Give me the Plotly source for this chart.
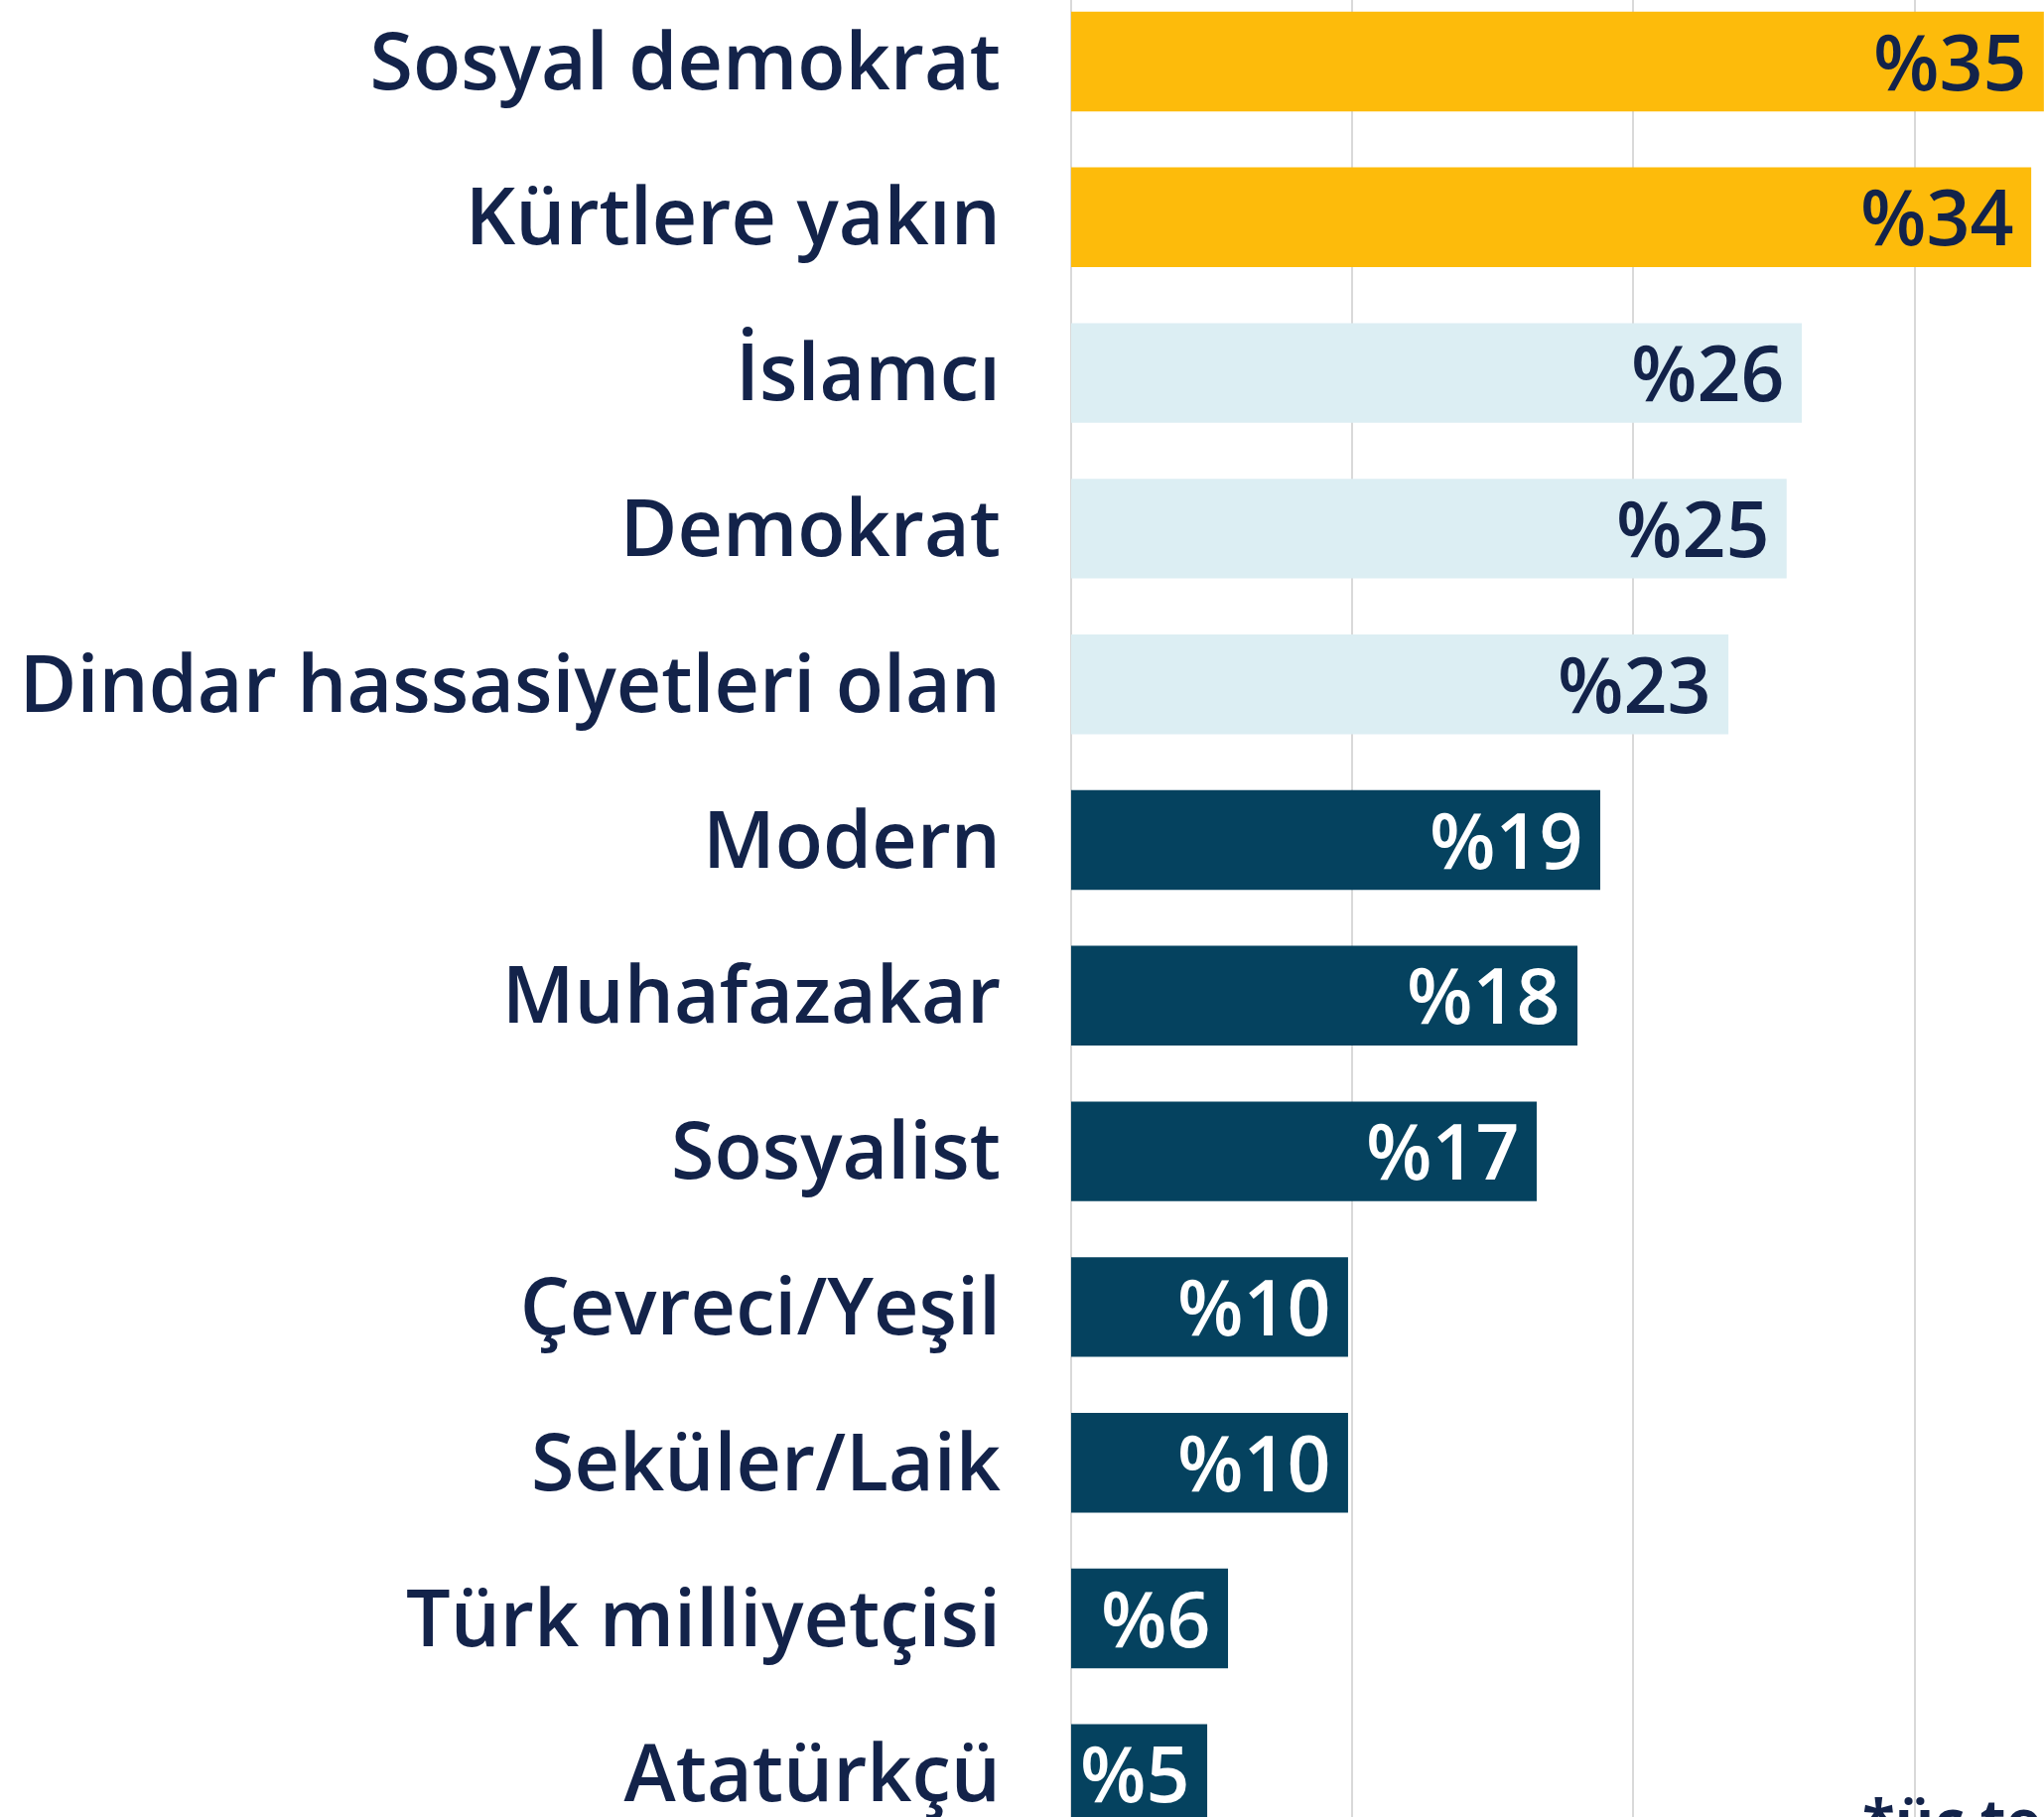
import plotly.graph_objects as go

categories = ["Sosyal demokrat", "Kürtlere yakın", "İslamcı", "Demokrat",
              "Dindar hassasiyetleri olan", "Modern", "Muhafazakar", "Sosyalist",
              "Çevreci/Yeşil", "Seküler/Laik", "Türk milliyetçisi", "Atatürkçü"]
values = [34.6, 34.15, 25.99, 25.45, 23.38, 18.82, 18.01, 16.56, 9.85, 9.85, 5.58, 4.84]
value_labels = ["%35", "%34", "%26", "%25", "%23", "%19", "%18", "%17", "%10", "%10", "%6", "%5"]
groups = ["top", "top", "mid", "mid", "mid", "low", "low", "low", "low", "low", "low", "low"]
footnote = "*üç tercihe kadar"

NAVY = "#13234A"
bar_colors = {"top": "#FDBB0B", "mid": "#DCEEF3", "low": "#05425F"}
text_colors = {"top": NAVY, "mid": NAVY, "low": "#FFFFFF"}
FONT = "Open Sans"

W, H = 2059, 1830
left = 1079
px_per_unit = 283.2 / 10
pitch = 156.8
top_center = 62
y_top = -top_center / pitch
y_bot = y_top + H / pitch
plot_w = W - left

fig = go.Figure()
fig.add_trace(go.Bar(
    x=values, y=categories, orientation="h",
    marker=dict(color=[bar_colors[g] for g in groups], line=dict(width=0)),
    width=0.64, hoverinfo="skip",
))

for v, c, lab, g in zip(values, categories, value_labels, groups):
    fig.add_annotation(x=v, y=c, xref="x", yref="y", text=lab, showarrow=False,
                       xanchor="right", yanchor="middle", xshift=-15, yshift=1,
                       font=dict(family=FONT, size=77, color=text_colors[g], weight=600))

fig.add_annotation(x=(1874 - left) / plot_w, y=1 - 1790 / H, xref="paper", yref="paper",
                   text=footnote, showarrow=False, xanchor="left", yanchor="top",
                   font=dict(family=FONT, size=60, color=NAVY, weight=700))

fig.update_layout(
    width=W, height=H,
    margin=dict(l=left, r=0, t=0, b=0, autoexpand=False),
    paper_bgcolor="white", plot_bgcolor="white",
    showlegend=False,
    xaxis=dict(range=[0, plot_w / px_per_unit], dtick=10, tick0=0, showgrid=True,
               gridcolor="#D9D9D9", gridwidth=2, zeroline=True, zerolinecolor="#D9D9D9",
               zerolinewidth=2, showticklabels=False, showline=False, fixedrange=True),
    yaxis=dict(range=[y_bot, y_top], showgrid=False, zeroline=False, showline=False,
               ticks="", ticklabelstandoff=70, fixedrange=True,
               tickfont=dict(family=FONT, size=79, color=NAVY, weight=600)),
)

fig.write_html("out.html", config={"displayModeBar": False},
               post_script="document.body.style.margin='0px';document.body.style.overflow='hidden';")
